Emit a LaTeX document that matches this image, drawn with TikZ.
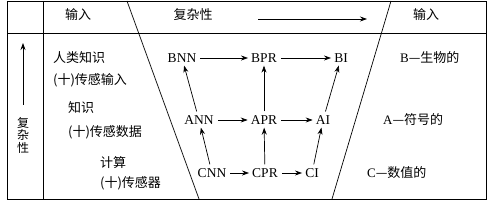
\documentclass[tikz,border=0pt]{standalone}
\usepackage{fontspec}
\setmainfont{Liberation Serif}
\newfontfamily\cjk{Noto Sans CJK SC}
\usepackage{tikz}
\usetikzlibrary{arrows.meta}
\definecolor{inkblack}{RGB}{0, 0, 0}

\tikzset{
  lvl/.style={inner sep=1pt, font=\fontsize{13.5}{15}\selectfont},
  txt/.style={inner sep=0pt, anchor=west, font=\cjk\fontsize{13}{15}\selectfont},
  flow/.style={draw=inkblack, line width=0.7pt,
               -{Stealth[length=7pt,width=5pt]}, shorten >=2pt, shorten <=3pt}
}

\begin{document}
\begin{tikzpicture}[x=1pt, y=-1pt]
    \useasboundingbox (0,0) rectangle (496,211);

    %% frame and header
    \draw[inkblack, line width=0.9pt] (7,1) rectangle (486,199);
    \draw[inkblack, line width=0.9pt] (7,33) -- (486,33);
    \draw[inkblack, line width=0.9pt] (43,1) -- (43,199);
    \draw[inkblack, line width=0.7pt] (127,1) -- (199,199);
    \draw[inkblack, line width=0.7pt] (391,1) -- (332,199);

    \node[txt, anchor=center] (inL) at (78,15) {输入};
    \node[txt, anchor=center] (cplx) at (193,15) {复杂性};
    \node[txt, anchor=center] (inR) at (426,15) {输入};
    \coordinate (hs) at (258,19);
    \coordinate (he) at (367,19);
    \draw[flow, shorten <=0pt, shorten >=0pt] (hs) -- (he);

    %% left column
    \coordinate (vs) at (23,105);
    \coordinate (ve) at (23,43);
    \draw[flow, shorten <=0pt, shorten >=0pt] (vs) -- (ve);
    \node[txt, anchor=center, align=center, font=\cjk\fontsize{12}{12.5}\selectfont]
      (side) at (23,135) {复\\杂\\性};

    %% inputs
    \node[txt] (hk1) at (53,58) {人类知识};
    \node[txt] (hk2) at (53,80) {(十)传感输入};
    \node[txt] (kn1) at (68,108) {知识};
    \node[txt] (kn2) at (68,132) {(十)传感数据};
    \node[txt] (cp1) at (100,163) {计算};
    \node[txt] (cp2) at (100,183) {(十)传感器};

    %% levels
    \node[lvl] (bnn) at (182,58) {BNN};
    \node[lvl] (bpr) at (264,58) {BPR};
    \node[lvl] (bi)  at (341,58) {BI};
    \node[lvl] (ann) at (199,120) {ANN};
    \node[lvl] (apr) at (264,120) {APR};
    \node[lvl] (ai)  at (323,120) {AI};
    \node[lvl] (cnn) at (212,173) {CNN};
    \node[lvl] (cpr) at (265,173) {CPR};
    \node[lvl] (ci)  at (312,173) {CI};

    \draw[flow] (bnn) -- (bpr);
    \draw[flow] (bpr) -- (bi);
    \draw[flow] (ann) -- (apr);
    \draw[flow] (apr) -- (ai);
    \draw[flow] (cnn) -- (cpr);
    \draw[flow] (cpr) -- (ci);
    \draw[flow] (ann) -- (bnn);
    \draw[flow] (cnn) -- (ann);
    \draw[flow] (apr) -- (bpr);
    \draw[flow] (cpr) -- (apr);
    \draw[flow] (ai) -- (bi);
    \draw[flow] (ci) -- (ai);

    %% kinds
    \node[txt] (kb) at (400,58) {{\rmfamily B}—生物的};
    \node[txt] (ka) at (383,120) {{\rmfamily A}—符号的};
    \node[txt] (kc) at (367,173) {{\rmfamily C}—数值的};
  \end{tikzpicture}
\end{document}
